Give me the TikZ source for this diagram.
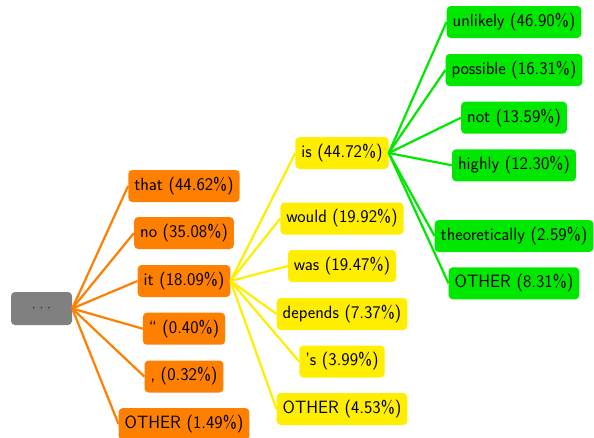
\documentclass[tikz,border=0pt]{standalone}
\usepackage{fontspec}
\definecolor{rootgray}{RGB}{128,128,128}
\definecolor{orng}{RGB}{255,128,0}
\definecolor{yelw}{RGB}{255,238,0}
\definecolor{grn}{RGB}{0,232,0}
\begin{document}
\begin{tikzpicture}[x=1pt,y=-1pt,
  box/.style={rounded corners=4pt, inner xsep=6pt, minimum height=32pt,
    font=\sffamily\fontsize{17.8}{21}\selectfont, text=black, anchor=center},
  rootbox/.style={box, fill=rootgray, minimum width=61pt, minimum height=33pt},
  obox/.style={box, fill=orng},
  ybox/.style={box, fill=yelw},
  gbox/.style={box, fill=grn},
  oedge/.style={draw=orng, line width=2.2pt},
  yedge/.style={draw=yelw, line width=2.2pt},
  gedge/.style={draw=grn, line width=2.2pt}]
\useasboundingbox (0,0) rectangle (594,437);
\node[rootbox] (root) at (41.5,308.5) {\textcolor{black!75}{$\cdots$}};
\node[obox] (that) at (184,186) {that (44.62\%)};
\node[obox] (no) at (184,233) {no (35.08\%)};
\node[obox] (it) at (184,281) {it (18.09\%)};
\node[obox] (quote) at (184,328.7) {“ (0.40\%)};
\node[obox] (comma) at (184,376.5) {, (0.32\%)};
\node[obox] (oother) at (184,424) {OTHER (1.49\%)};
\node[ybox] (is) at (342,153) {is (44.72\%)};
\node[ybox] (would) at (342,218.5) {would (19.92\%)};
\node[ybox] (was) at (342,266) {was (19.47\%)};
\node[ybox] (depends) at (342,314) {depends (7.37\%)};
\node[ybox] (s) at (342,361.5) {'s (3.99\%)};
\node[ybox] (yother) at (342,409) {OTHER (4.53\%)};
\node[gbox] (unlikely) at (514,22) {unlikely (46.90\%)};
\node[gbox] (possible) at (514,70) {possible (16.31\%)};
\node[gbox] (not) at (514,117.7) {not (13.59\%)};
\node[gbox] (highly) at (514,165.3) {highly (12.30\%)};
\node[gbox] (theor) at (514,236) {theoretically (2.59\%)};
\node[gbox] (gother) at (514,283.3) {OTHER (8.31\%)};
\foreach \c in {that,no,it,quote,comma,oother}
  \path[oedge] (root.east) -- (\c.west);
\foreach \c in {is,would,was,depends,s,yother}
  \path[yedge] (it.east) -- (\c.west);
\foreach \c in {unlikely,possible,not,highly,theor,gother}
  \path[gedge] (is.east) -- (\c.west);
\end{tikzpicture}
\end{document}
